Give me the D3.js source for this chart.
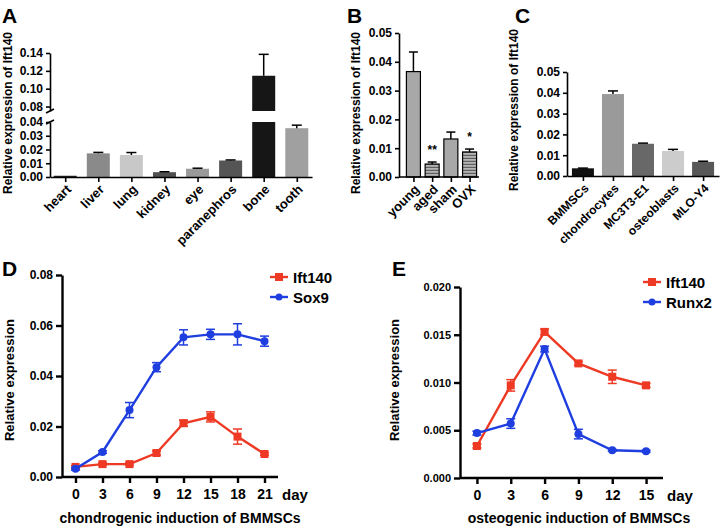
<!DOCTYPE html>
<html>
<head>
<meta charset="utf-8">
<script src="https://cdn.jsdelivr.net/npm/d3@7"></script>
<style>
  html, body { margin: 0; padding: 0; background: #fff; }
  svg text { font-family: "Liberation Sans", Arial, Helvetica, sans-serif; font-weight: bold; fill: #000; }
</style>
</head>
<body>
<svg id="chart" width="721" height="527"></svg>
<script>
// ---------------- DATA ----------------
const A_cats = ["heart", "liver", "lung", "kidney", "eye", "paranephros", "bone", "tooth"];
const A_vals = [0.0009, 0.0172, 0.0160, 0.0035, 0.0060, 0.0120, 0.1145, 0.0355];
const A_errs = [0.0000, 0.0007, 0.0018, 0.0003, 0.0004, 0.0004, 0.0240, 0.0022];
const A_colors = ["#222222", "#8a8a8a", "#c8c8c8", "#505050", "#9a9a9a", "#555555", "#161616", "#a0a0a0"];
const A_lowTicks = [0.00, 0.01, 0.02, 0.03, 0.04];
const A_highTicks = [0.08, 0.10, 0.12, 0.14];

const B_cats = ["young", "aged", "sham", "OVX"];
const B_vals = [0.0366, 0.0045, 0.0132, 0.0087];
const B_errs = [0.0068, 0.0007, 0.0024, 0.0010];
const B_hatched = [false, true, false, true];
const B_stars = ["", "**", "", "*"];
const B_ticks = [0.00, 0.01, 0.02, 0.03, 0.04, 0.05];

const C_cats = ["BMMSCs", "chondrocytes", "MC3T3-E1", "osteoblasts", "MLO-Y4"];
const C_vals = [0.0037, 0.0394, 0.0155, 0.0120, 0.0068];
const C_errs = [0.0001, 0.0015, 0.0003, 0.0008, 0.0003];
const C_colors = ["#111111", "#9a9a9a", "#686868", "#cccccc", "#585858"];
const C_ticks = [0.00, 0.01, 0.02, 0.03, 0.04, 0.05];

const D_days = [0, 3, 6, 9, 12, 15, 18, 21];
const D_ift = [0.0040, 0.0051, 0.0051, 0.0095, 0.0213, 0.0238, 0.0160, 0.0091];
const D_iftErr = [0.0005, 0.0005, 0.0005, 0.0008, 0.0012, 0.0020, 0.0030, 0.0005];
const D_sox = [0.0033, 0.0099, 0.0265, 0.0435, 0.0553, 0.0565, 0.0565, 0.0538];
const D_soxErr = [0.0005, 0.0005, 0.0030, 0.0018, 0.0030, 0.0020, 0.0042, 0.0020];
const D_yTicks = [0.00, 0.02, 0.04, 0.06, 0.08];

const E_days = [0, 3, 6, 9, 12, 15];
const E_ift = [0.00335, 0.0097, 0.0153, 0.0120, 0.0106, 0.0097];
const E_iftErr = [0.0002, 0.0006, 0.0003, 0.0002, 0.0007, 0.0002];
const E_runx = [0.0047, 0.0057, 0.0135, 0.0046, 0.0029, 0.0028];
const E_runxErr = [0.0002, 0.0005, 0.0003, 0.0005, 0.0001, 0.0001];
const E_yTicks = [0.000, 0.005, 0.010, 0.015, 0.020];

const RED = "#ee3a24";
const BLUE = "#1f3ee0";

// ---------------- DRAW ----------------
const svg = d3.select("#chart");
svg.append("rect").attr("width", 721).attr("height", 527).attr("fill", "#fff");

const defs = svg.append("defs");
const pat = defs.append("pattern").attr("id", "hatch").attr("patternUnits", "userSpaceOnUse")
  .attr("width", 6).attr("height", 3);
pat.append("rect").attr("width", 6).attr("height", 3).attr("fill", "#b5b5b5");
pat.append("rect").attr("y", 1.8).attr("width", 6).attr("height", 1.1).attr("fill", "#555");

function styleAxis(g, sw, fs) {
  g.selectAll("path.domain").attr("stroke", "#000").attr("stroke-width", sw);
  g.selectAll(".tick line").attr("stroke", "#000").attr("stroke-width", sw);
  g.selectAll(".tick text").style("font-size", fs + "px").style("font-weight", "bold")
    .style("font-family", '"Liberation Sans", Arial, sans-serif').attr("fill", "#000");
}

function panelLabel(t, x, y) {
  svg.append("text").attr("x", x).attr("y", y).style("font-size", "21px").text(t);
}

function yTitle(t, x, y, fs) {
  svg.append("text").attr("transform", `translate(${x},${y}) rotate(-90)`)
    .attr("text-anchor", "middle").style("font-size", fs + "px").text(t);
}

function rotLabels(g, fs) {
  g.selectAll(".tick text")
    .attr("x", 0).attr("y", 0).attr("dy", "0.35em")
    .attr("text-anchor", "end")
    .attr("transform", "translate(3,10) rotate(-45)")
    .style("font-size", fs + "px");
}

function upErr(g, x, yTop, yVal, cap, sw) {
  g.append("line").attr("x1", x).attr("x2", x).attr("y1", yVal).attr("y2", yTop)
    .attr("stroke", "#000").attr("stroke-width", sw);
  g.append("line").attr("x1", x - cap / 2).attr("x2", x + cap / 2).attr("y1", yTop).attr("y2", yTop)
    .attr("stroke", "#000").attr("stroke-width", sw);
}

// ===== Panel A =====
(function () {
  const axX = 50, x0 = 50, x1 = 312;
  const yLow = d3.scaleLinear().domain([0, 0.04]).range([177, 122]);
  const yHigh = d3.scaleLinear().domain([0.075, 0.14]).range([111, 53]);
  const x = d3.scalePoint().domain(A_cats).range([x0, x1]).padding(0.46);
  const bw = 23;
  const g = svg.append("g");

  A_cats.forEach((c, i) => {
    const v = A_vals[i], cx = x(c);
    const lowTop = yLow(Math.min(v, 0.04));
    g.append("rect").attr("x", cx - bw / 2).attr("width", bw)
      .attr("y", lowTop).attr("height", yLow(0) - lowTop).attr("fill", A_colors[i]);
    if (v > 0.075) {
      g.append("rect").attr("x", cx - bw / 2).attr("width", bw)
        .attr("y", yHigh(v)).attr("height", yHigh(0.075) - yHigh(v)).attr("fill", A_colors[i]);
      if (A_errs[i] > 0) upErr(g, cx, yHigh(v + A_errs[i]), yHigh(v), 10, 1.5);
    } else if (A_errs[i] > 0) {
      upErr(g, cx, yLow(v + A_errs[i]), yLow(v), 10, 1.5);
    }
  });

  const gl = svg.append("g").attr("transform", `translate(${axX},0)`)
    .call(d3.axisLeft(yLow).tickValues(A_lowTicks).tickFormat(d3.format(".2f")).tickSize(4).tickSizeOuter(0));
  styleAxis(gl, 1.6, 12);
  const gh = svg.append("g").attr("transform", `translate(${axX},0)`)
    .call(d3.axisLeft(yHigh).tickValues(A_highTicks).tickFormat(d3.format(".2f")).tickSize(4).tickSizeOuter(0));
  styleAxis(gh, 1.6, 12);
  svg.append("line").attr("x1", axX - 4).attr("x2", axX + 4).attr("y1", yHigh(0.075) + 2).attr("y2", yHigh(0.075) - 2)
    .attr("stroke", "#000").attr("stroke-width", 1.6);
  svg.append("line").attr("x1", axX - 4).attr("x2", axX + 4).attr("y1", yLow(0.04) + 2).attr("y2", yLow(0.04) - 2)
    .attr("stroke", "#000").attr("stroke-width", 1.6);

  const gx = svg.append("g").attr("transform", `translate(0,${yLow(0)})`)
    .call(d3.axisBottom(x).tickSize(5).tickSizeOuter(0));
  styleAxis(gx, 1.6, 12);
  rotLabels(gx, 13);

  panelLabel("A", 2, 23);
  yTitle("Relative expression of Ift140", 12, 113, 12);
})();

// ===== Panel B =====
(function () {
  const axX = 399, axEnd = 479;
  const y = d3.scaleLinear().domain([0, 0.05]).range([177, 33]);
  const x = d3.scalePoint().domain(B_cats).range([405, 478]).padding(0.45);
  const bw = 14;
  const g = svg.append("g");
  B_cats.forEach((c, i) => {
    const v = B_vals[i], cx = x(c);
    g.append("rect").attr("x", cx - bw / 2).attr("width", bw)
      .attr("y", y(v)).attr("height", y(0) - y(v))
      .attr("fill", B_hatched[i] ? "url(#hatch)" : "#a8a8a8")
      .attr("stroke", "#000").attr("stroke-width", 1.2);
    upErr(g, cx, y(v + B_errs[i]), y(v), 9, 1.5);
    if (B_stars[i]) {
      g.append("text").attr("x", cx).attr("y", y(v + B_errs[i]) - 8)
        .attr("text-anchor", "middle").style("font-size", "12px").text(B_stars[i]);
    }
  });
  const gy = svg.append("g").attr("transform", `translate(${axX},0)`)
    .call(d3.axisLeft(y).tickValues(B_ticks).tickFormat(d3.format(".2f")).tickSize(4).tickSizeOuter(0));
  styleAxis(gy, 1.6, 12);
  const gx = svg.append("g").attr("transform", `translate(0,${y(0)})`)
    .call(d3.axisBottom(x).tickSize(5).tickSizeOuter(0));
  styleAxis(gx, 1.6, 12);
  gx.select("path.domain").attr("d", `M${axX},0H${axEnd}`);
  rotLabels(gx, 13);
  panelLabel("B", 347, 23);
  yTitle("Relative expression of Ift140", 360, 113, 12);
})();

// ===== Panel C =====
(function () {
  const axX = 567;
  const y = d3.scaleLinear().domain([0, 0.05]).range([176, 72]);
  const x = d3.scalePoint().domain(C_cats).range([axX, 719]).padding(0.53);
  const bw = 22;
  const g = svg.append("g");
  C_cats.forEach((c, i) => {
    const v = C_vals[i], cx = x(c);
    g.append("rect").attr("x", cx - bw / 2).attr("width", bw)
      .attr("y", y(v)).attr("height", y(0) - y(v)).attr("fill", C_colors[i]);
    upErr(g, cx, y(v + C_errs[i]), y(v), 10, 1.5);
  });
  const gy = svg.append("g").attr("transform", `translate(${axX},0)`)
    .call(d3.axisLeft(y).tickValues(C_ticks).tickFormat(d3.format(".2f")).tickSize(4).tickSizeOuter(0));
  styleAxis(gy, 1.6, 12);
  const gx = svg.append("g").attr("transform", `translate(0,${y(0)})`)
    .call(d3.axisBottom(x).tickSize(5).tickSizeOuter(0));
  styleAxis(gx, 1.6, 12);
  rotLabels(gx, 12);
  panelLabel("C", 515, 23);
  yTitle("Relative expression of Ift140", 518, 110, 12);
})();

// ===== line panels =====
function linePanel(opt) {
  const x = d3.scaleLinear().domain(opt.xDom).range(opt.xRange);
  const y = d3.scaleLinear().domain(opt.yDom).range(opt.yRange);
  const g = svg.append("g");
  const line = d3.line().x((d, i) => x(opt.days[i])).y(d => y(d));

  function series(vals, errs, color, shape) {
    g.append("path").datum(vals).attr("d", line).attr("fill", "none")
      .attr("stroke", color).attr("stroke-width", 2.4);
    vals.forEach((v, i) => {
      const cx = x(opt.days[i]);
      const yt = y(v + errs[i]), yb = y(v - errs[i]);
      g.append("line").attr("x1", cx).attr("x2", cx).attr("y1", yt).attr("y2", yb)
        .attr("stroke", color).attr("stroke-width", 1.5);
      [yt, yb].forEach(yy => g.append("line").attr("x1", cx - 4.5).attr("x2", cx + 4.5)
        .attr("y1", yy).attr("y2", yy).attr("stroke", color).attr("stroke-width", 1.5));
      if (shape === "square") {
        g.append("rect").attr("x", cx - 4).attr("y", y(v) - 4).attr("width", 8).attr("height", 8).attr("fill", color);
      } else {
        g.append("circle").attr("cx", cx).attr("cy", y(v)).attr("r", 4).attr("fill", color);
      }
    });
  }
  series(opt.s1, opt.e1, RED, "square");
  series(opt.s2, opt.e2, BLUE, "circle");

  const gy = svg.append("g").attr("transform", `translate(${opt.xRange[0]},0)`)
    .call(d3.axisLeft(y).tickValues(opt.yTicks).tickFormat(d3.format(opt.yFmt)).tickSize(6).tickSizeOuter(0));
  styleAxis(gy, 2.4, opt.yFs);
  const gx = svg.append("g").attr("transform", `translate(0,${opt.yRange[0]})`)
    .call(d3.axisBottom(x).tickValues(opt.days).tickFormat(d3.format("d")).tickSize(6).tickSizeOuter(0));
  styleAxis(gx, 2.4, 14);
  gx.selectAll(".tick text").attr("y", 12);
  gx.select("path.domain").attr("d", `M${opt.xRange[0]},0H${opt.xRange[1]}`);

  svg.append("text").attr("x", opt.xRange[1] + 4).attr("y", opt.yRange[0] + 12 + 11)
    .style("font-size", "15px").text("day");
  svg.append("text").attr("x", opt.xTitleX).attr("y", 523).attr("text-anchor", "middle")
    .style("font-size", "14px").text(opt.xTitle);
  yTitle("Relative expression", opt.yTitleX, 380, 13);
  panelLabel(opt.label, opt.labelX, 276);

  const L = svg.append("g");
  opt.legend.forEach((name, i) => {
    const ly = opt.legY + i * 20;
    const col = i === 0 ? RED : BLUE;
    L.append("line").attr("x1", opt.legX).attr("x2", opt.legX + 18).attr("y1", ly).attr("y2", ly)
      .attr("stroke", col).attr("stroke-width", 2.4);
    if (i === 0) L.append("rect").attr("x", opt.legX + 5).attr("y", ly - 4).attr("width", 8).attr("height", 8).attr("fill", col);
    else L.append("circle").attr("cx", opt.legX + 9).attr("cy", ly).attr("r", 3.5).attr("fill", col);
    L.append("text").attr("x", opt.legX + 23).attr("y", ly + 5.5).style("font-size", "15px").text(name);
  });
}

linePanel({
  days: D_days, s1: D_ift, e1: D_iftErr, s2: D_sox, e2: D_soxErr,
  xDom: [-1.5, 22.5], xRange: [62, 278], yDom: [0, 0.08], yRange: [477, 275],
  yTicks: D_yTicks, yFmt: ".2f", yFs: 12,
  xTitle: "chondrogenic induction of BMMSCs", xTitleX: 180,
  yTitleX: 14, label: "D", labelX: 2,
  legend: ["Ift140", "Sox9"], legX: 270, legY: 277
});

linePanel({
  days: E_days, s1: E_ift, e1: E_iftErr, s2: E_runx, e2: E_runxErr,
  xDom: [-1.5, 16.5], xRange: [460, 663], yDom: [0, 0.02], yRange: [478, 287],
  yTicks: E_yTicks, yFmt: ".3f", yFs: 11,
  xTitle: "osteogenic induction of BMMSCs", xTitleX: 579,
  yTitleX: 399, label: "E", labelX: 392,
  legend: ["Ift140", "Runx2"], legX: 643, legY: 282
});
</script>
</body>
</html>
